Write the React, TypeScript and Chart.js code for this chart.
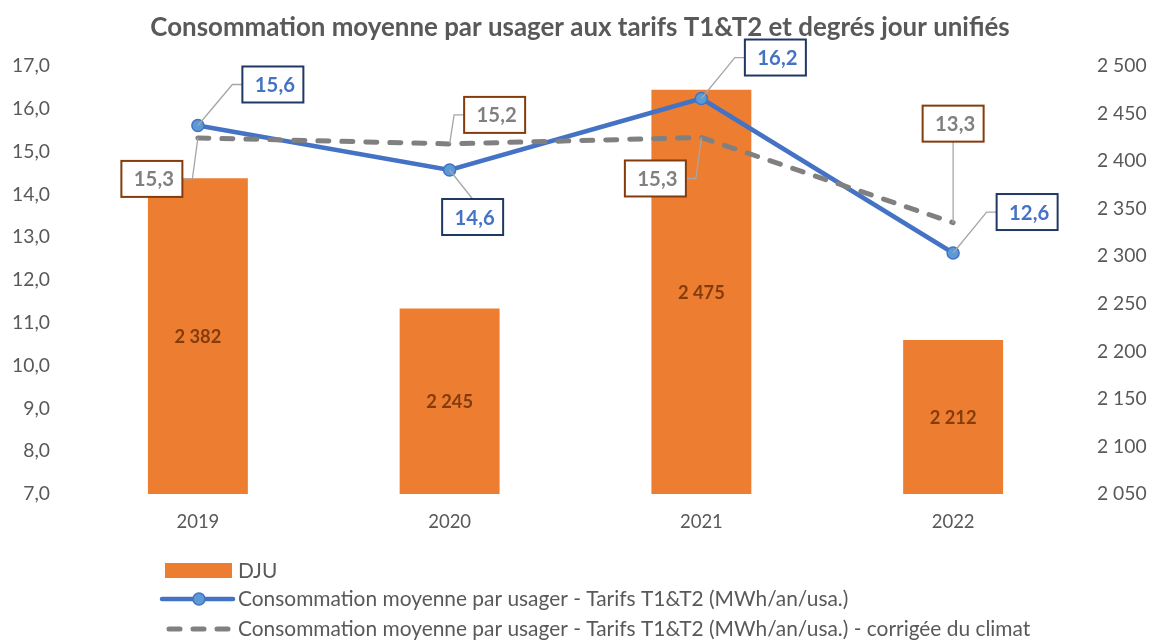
import React, { useEffect, useRef } from "react";
import { Chart, registerables } from "chart.js";

Chart.register(...registerables);

// ---------- data ----------
const years = ["2019", "2020", "2021", "2022"];
const dju = [2382, 2245, 2475, 2212];
const conso = [15.61, 14.57, 16.24, 12.63];
const consoCorr = [15.32, 15.18, 15.33, 13.34];

const TITLE = "Consommation moyenne par usager aux tarifs T1&T2 et degrés jour unifiés";
const LEG_DJU = "DJU";
const LEG_CONSO = "Consommation moyenne par usager - Tarifs T1&T2 (MWh/an/usa.)";
const LEG_CORR = "Consommation moyenne par usager - Tarifs T1&T2 (MWh/an/usa.) - corrigée du climat";

// ---------- label placement (box centre offset from the point, px) ----------
const consoLabelOffsets = [[75, -41], [23, 47], [74, -41], [74, -41]];
const corrLabelOffsets = [[-46, 41], [45, -29], [-46, 41], [0, -99]];

// ---------- style ----------
const FAM = "Lato, 'Open Sans', sans-serif";
const ORANGE = "#ED7D31";
const BLUE = "#4472C4";
const BLUE_FILL = "#5B9BD5";
const NAVY = "#1F3864";
const GRAY = "#808080";
const BROWN = "#843C0C";
const TEXT = "#595959";

const fmtLeft = (v: number) => v.toFixed(1).replace(".", ",");
const fmtThousands = (v: number) => {
  const s = Math.round(v).toString();
  return s.replace(/\B(?=(\d{3})+(?!\d))/g, " ");
};

const mctx = document.createElement("canvas").getContext("2d") as CanvasRenderingContext2D;
function fit(text: string, weight: string, target: number) {
  mctx.font = `${weight} 100px ${FAM}`;
  const w = mctx.measureText(text).width;
  return Math.round((1000 * target) / w) / 10;
}

export default function App() {
  const ref = useRef<HTMLCanvasElement | null>(null);

  useEffect(() => {
    if (!ref.current) return;

    const titleSize = fit(TITLE, "bold", 860);
    const legendSize = fit(LEG_CORR, "normal", 792);
    const tickSize = fit("17,0", "normal", 38);
    const xTickSize = fit("2019", "normal", 43);
    const ptLabelSize = fit("15,6", "bold", 40);
    const barLabelSize = fit("2 382", "bold", 47);

    const overlay = {
      id: "overlay",
      afterDatasetsDraw(chart: any) {
        const ctx: CanvasRenderingContext2D = chart.ctx;
        ctx.save();
        // bar labels
        const yScale = chart.scales.y1;
        const bottom = chart.chartArea.bottom;
        const barMeta = chart.getDatasetMeta(0);
        ctx.font = `bold ${barLabelSize}px ${FAM}`;
        ctx.fillStyle = BROWN;
        ctx.textAlign = "center";
        ctx.textBaseline = "middle";
        barMeta.data.forEach((el: any, i: number) => {
          const top = yScale.getPixelForValue(dju[i]);
          ctx.fillText(fmtThousands(dju[i]), el.x, (top + bottom) / 2 + 1);
        });

        const drawLabels = (
          dsIndex: number,
          values: number[],
          offsets: number[][],
          textColor: string,
          borderColor: string
        ) => {
          const meta = chart.getDatasetMeta(dsIndex);
          const hw = 30.5;
          const hh = 18;
          meta.data.forEach((el: any, i: number) => {
            const px = el.x;
            const py = el.y;
            const [dx, dy] = offsets[i];
            const bx = px + dx;
            const by = py + dy;
            ctx.beginPath();
            ctx.strokeStyle = "#A6A6A6";
            ctx.lineWidth = 1.3;
            ctx.setLineDash([]);
            ctx.moveTo(px, py);
            if (Math.abs(dx) > hw + 8) {
              const edgeX = dx > 0 ? bx - hw : bx + hw;
              const elbowX = edgeX - Math.sign(dx) * 10;
              ctx.lineTo(elbowX, by);
              ctx.lineTo(edgeX, by);
            } else {
              const edgeY = dy > 0 ? by - hh : by + hh;
              ctx.lineTo(bx, edgeY);
            }
            ctx.stroke();
            ctx.fillStyle = "#FFFFFF";
            ctx.fillRect(bx - hw, by - hh, hw * 2, hh * 2);
            ctx.lineWidth = 2;
            ctx.strokeStyle = borderColor;
            ctx.strokeRect(bx - hw, by - hh, hw * 2, hh * 2);
            ctx.fillStyle = textColor;
            ctx.font = `bold ${ptLabelSize}px ${FAM}`;
            ctx.textAlign = "center";
            ctx.textBaseline = "middle";
            ctx.fillText(values[i].toFixed(1).replace(".", ","), bx + 2, by + 1);
          });
        };
        drawLabels(2, consoCorr, corrLabelOffsets, GRAY, BROWN);
        drawLabels(1, conso, consoLabelOffsets, BLUE, NAVY);
        ctx.restore();
      },
      afterDraw(chart: any) {
        const ctx: CanvasRenderingContext2D = chart.ctx;
        ctx.save();
        // title
        ctx.font = `bold ${titleSize}px ${FAM}`;
        ctx.fillStyle = TEXT;
        ctx.textAlign = "center";
        ctx.textBaseline = "middle";
        ctx.fillText(TITLE, 580, 28);

        // legend
        ctx.font = `${legendSize}px ${FAM}`;
        ctx.textAlign = "left";
        ctx.textBaseline = "middle";
        const tx = 238;
        // DJU
        ctx.fillStyle = ORANGE;
        ctx.fillRect(165, 563, 67, 15);
        ctx.fillStyle = TEXT;
        ctx.fillText(LEG_DJU, tx, 571);
        // conso
        ctx.beginPath();
        ctx.strokeStyle = BLUE;
        ctx.lineWidth = 4.5;
        ctx.lineCap = "round";
        ctx.moveTo(162, 599);
        ctx.lineTo(233, 599);
        ctx.stroke();
        ctx.beginPath();
        ctx.arc(199, 599, 6, 0, Math.PI * 2);
        ctx.fillStyle = BLUE_FILL;
        ctx.fill();
        ctx.lineWidth = 1.5;
        ctx.strokeStyle = BLUE;
        ctx.stroke();
        ctx.fillStyle = TEXT;
        ctx.fillText(LEG_CONSO, tx, 599);
        // corrected
        ctx.beginPath();
        ctx.strokeStyle = GRAY;
        ctx.lineWidth = 5;
        ctx.lineCap = "round";
        ctx.setLineDash([11, 13]);
        ctx.moveTo(169, 629);
        ctx.lineTo(232, 629);
        ctx.stroke();
        ctx.setLineDash([]);
        ctx.fillStyle = TEXT;
        ctx.fillText(LEG_CORR, tx, 629);
        ctx.restore();
      },
    };

    const chart = new Chart(ref.current, {
      data: {
        labels: years,
        datasets: [
          {
            type: "bar",
            label: LEG_DJU,
            data: dju,
            yAxisID: "y1",
            backgroundColor: ORANGE,
            barPercentage: 0.397,
            categoryPercentage: 1,
            order: 3,
          },
          {
            type: "line",
            label: LEG_CONSO,
            data: conso,
            yAxisID: "y",
            borderColor: BLUE,
            borderWidth: 4.5,
            pointRadius: 6,
            pointBackgroundColor: BLUE_FILL,
            pointBorderColor: BLUE,
            pointBorderWidth: 1.5,
            tension: 0,
            order: 2,
          },
          {
            type: "line",
            label: LEG_CORR,
            data: consoCorr,
            yAxisID: "y",
            borderColor: GRAY,
            borderWidth: 5,
            borderDash: [11, 13],
            borderCapStyle: "round",
            pointRadius: 0,
            tension: 0,
            order: 1,
          },
        ] as any,
      },
      options: {
        responsive: false,
        animation: false,
        devicePixelRatio: 1,
        layout: { padding: { top: 66, left: 0, right: 0, bottom: 0 } },
        plugins: {
          legend: { display: false },
          title: { display: false },
          tooltip: { enabled: false },
        },
        scales: {
          x: {
            grid: { display: false, drawTicks: false },
            border: { display: false },
            ticks: { color: TEXT, font: { family: FAM, size: xTickSize }, padding: 17 },
            afterFit: (s: any) => {
              s.height = 147;
            },
          },
          y: {
            position: "left",
            min: 7,
            max: 17,
            grid: { display: false, drawTicks: false },
            border: { display: false },
            ticks: {
              stepSize: 1,
              color: TEXT,
              font: { family: FAM, size: tickSize },
              padding: 22,
              callback: (v: any) => fmtLeft(Number(v)),
            },
            afterFit: (s: any) => {
              s.width = 72;
            },
          },
          y1: {
            position: "right",
            min: 2050,
            max: 2500,
            grid: { display: false, drawTicks: false },
            border: { display: false },
            ticks: {
              stepSize: 50,
              color: TEXT,
              font: { family: FAM, size: tickSize },
              padding: 18,
              callback: (v: any) => fmtThousands(Number(v)),
            },
            afterFit: (s: any) => {
              s.width = 74;
            },
          },
        },
      } as any,
      plugins: [overlay],
    });

    return () => chart.destroy();
  }, []);

  return (
    <div style={{ position: "absolute", left: 0, top: 0, width: 1153, height: 641, background: "#fff" }}>
      <canvas ref={ref} width={1153} height={641} />
    </div>
  );
}
